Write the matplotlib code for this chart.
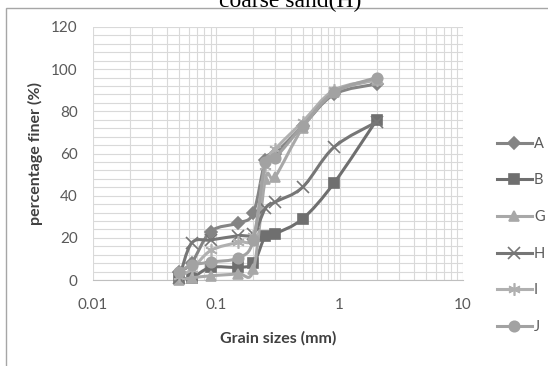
import numpy as np
import matplotlib
matplotlib.use("Agg")
import matplotlib.pyplot as plt
from matplotlib.path import Path
from matplotlib.patches import PathPatch, Rectangle
from matplotlib.lines import Line2D
from matplotlib.ticker import FixedLocator, NullFormatter

# Sieve sizes (mm) and percentage finer for each sample
grain_sizes = [0.05, 0.063, 0.09, 0.15, 0.2, 0.25, 0.3, 0.5, 0.9, 2.0]
series_names = ["A", "B", "G", "H", "I", "J"]
pct_A = [4, 8, 23, 27, 32, 57, 60, 73, 88, 93]
pct_B = [1, 1, 6, 6, 8, 21, 22, 29, 46, 76]
pct_G = [0, 1, 2, 3, 5, 48, 49, 72, 89, 95]
pct_H = [1, 17.5, 19, 21, 22, 34, 37, 44, 63, 75]
pct_I = [2, 5, 14, 18, 21, 54, 62, 75, 90, 95]
pct_J = [4, 7, 8.5, 10.5, 19, 56, 58, 73, 89, 96]
x_ticks = [0.01, 0.1, 1, 10]
x_tick_labels = ["0.01", "0.1", "1", "10"]
y_ticks = [0, 20, 40, 60, 80, 100, 120]

series_values = [pct_A, pct_B, pct_G, pct_H, pct_I, pct_J]
styles = [
    dict(color="#848484", marker="D", ms=6),
    dict(color="#6f6f6f", marker="s", ms=7),
    dict(color="#a8a8a8", marker="^", ms=7),
    dict(color="#767676", marker="x", ms=8),
    dict(color="#b0b0b0", marker=(6, 2, 0), ms=9),
    dict(color="#a2a2a2", marker="o", ms=7.5),
]

plt.rcParams["font.family"] = ["Lato", "DejaVu Sans"]

fig = plt.figure(figsize=(5.48, 3.66), dpi=100)
ax = fig.add_axes([93 / 548, 1 - 280 / 366, 370 / 548, 253 / 366])

ax.set_xscale("log")
ax.set_xlim(0.01, 10)
ax.set_ylim(0, 120)

# grid
ax.xaxis.set_major_locator(FixedLocator(x_ticks))
minors = [m * 10.0 ** e for e in (-2, -1, 0) for m in range(2, 10)]
ax.xaxis.set_minor_locator(FixedLocator(minors))
ax.xaxis.set_minor_formatter(NullFormatter())
ax.set_xticklabels(x_tick_labels)
ax.set_yticks(y_ticks)
ax.set_yticks(np.arange(0, 121, 4), minor=True)
ax.grid(True, which="both", color="#d9d9d9", linewidth=0.8)
ax.set_axisbelow(True)
ax.tick_params(which="both", length=0)
ax.tick_params(axis="both", labelsize=11, labelcolor="#595959")
ax.tick_params(axis="x", pad=13)
ax.tick_params(axis="y", pad=11)
for side in ("top", "right", "left"):
    ax.spines[side].set_visible(False)
ax.spines["bottom"].set_color("#bfbfbf")

ax.set_xlabel("Grain sizes (mm)", fontsize=11.5, fontweight="bold", color="#404040", labelpad=14)
ax.set_ylabel("percentage finer (%)", fontsize=11.5, fontweight="bold", color="#404040", labelpad=6)

fig.canvas.draw()


def smooth_path(xs, ys):
    """Catmull-Rom style Bezier curve through the points, built in display space."""
    pts = ax.transData.transform(np.column_stack([xs, ys]))
    n = len(pts)
    verts = [pts[0]]
    codes = [Path.MOVETO]
    for i in range(n - 1):
        p0 = pts[i - 1] if i > 0 else pts[i]
        p1 = pts[i]
        p2 = pts[i + 1]
        p3 = pts[i + 2] if i + 2 < n else pts[i + 1]
        c1 = p1 + (p2 - p0) / 6.0
        c2 = p2 - (p3 - p1) / 6.0
        verts += [c1, c2, p2]
        codes += [Path.CURVE4] * 3
    return Path(verts, codes)


handles = []
for k, (name, vals, st) in enumerate(zip(series_names, series_values, styles)):
    path = smooth_path(grain_sizes, vals)
    patch = PathPatch(path, facecolor="none", edgecolor=st["color"], linewidth=2.2,
                      transform=None, zorder=3 + k, capstyle="round", joinstyle="round")
    ax.add_patch(patch)
    ax.plot(grain_sizes, vals, linestyle="none", marker=st["marker"], ms=st["ms"],
            color=st["color"], mec=st["color"], mew=1.2, zorder=3.5 + k, clip_on=False)
    handles.append(Line2D([], [], color=st["color"], linewidth=2.2, marker=st["marker"],
                          ms=st["ms"], mew=1.2, label=name))

leg = fig.legend(handles=handles, loc="upper left", bbox_to_anchor=(491 / 548, 1 - 131 / 366),
                 frameon=False, fontsize=10.5, handlelength=2.4, handletextpad=0.15,
                 labelspacing=1.55, labelcolor="#595959", borderaxespad=0)

# chart frame and the partly visible heading above it
fig.patches.append(Rectangle((6 / 548, -0.1), 1.2, 1 - 8 / 366 + 0.1, transform=fig.transFigure,
                             facecolor="none", edgecolor="#a6a6a6", linewidth=1.0))
fig.text(0.53, 1 - 7 / 366, "coarse sand(H)", ha="center", va="baseline",
         fontsize=17, family="Liberation Serif", color="#000000")

fig.savefig("out.png", dpi=100)
